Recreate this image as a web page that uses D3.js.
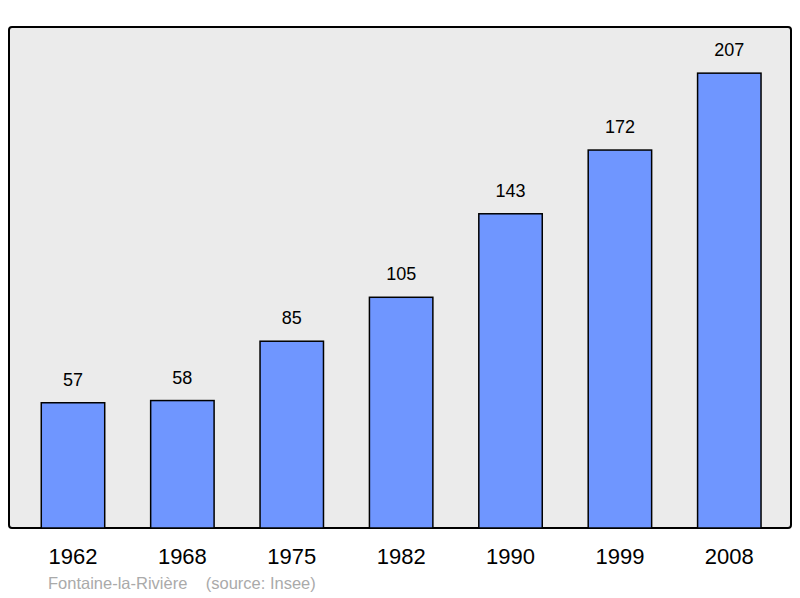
<!DOCTYPE html>
<html><head><meta charset="utf-8">
<script src="https://cdn.jsdelivr.net/npm/d3@7"></script>
<style>body{margin:0;background:#fff}</style></head>
<body><svg id="c" width="800" height="598"></svg>
<script>
const years = ["1962","1968","1975","1982","1990","1999","2008"];
const population = [57,58,85,105,143,172,207];
const sourceText = "Fontaine-la-Rivière    (source: Insee)";

const svg = d3.select("#c");
svg.append("rect").attr("x",9).attr("y",27).attr("width",782).attr("height",501)
  .attr("rx",3).attr("fill","#ebebeb").attr("stroke","#000").attr("stroke-width",2);
const x = d3.scaleBand().domain(years).range([18.3,784]).paddingInner(0.42).paddingOuter(0.21);
const y = d3.scaleLinear().domain([0,228]).range([528,27]);
svg.selectAll(".bar").data(population).join("rect")
  .attr("x",(d,i)=>x(years[i])).attr("y",d=>y(d))
  .attr("width",x.bandwidth()).attr("height",d=>528-y(d))
  .attr("fill","#6f96ff").attr("stroke","#000").attr("stroke-width",1.5);
svg.selectAll(".val").data(population).join("text")
  .attr("x",(d,i)=>x(years[i])+x.bandwidth()/2).attr("y",d=>y(d)-17)
  .attr("text-anchor","middle").attr("font-family","Liberation Sans, Arial, sans-serif")
  .attr("font-size",18).text(d=>d);
svg.selectAll(".yr").data(years).join("text")
  .attr("x",d=>x(d)+x.bandwidth()/2).attr("y",564)
  .attr("text-anchor","middle").attr("font-family","Liberation Sans, Arial, sans-serif")
  .attr("font-size",22).text(d=>d);
svg.append("text").attr("x",48).attr("y",589).attr("fill","#aaa")
  .attr("font-family","Liberation Sans, Arial, sans-serif").attr("font-size",16.5)
  .attr("xml:space","preserve").style("white-space","pre").text(sourceText);
</script></body></html>
